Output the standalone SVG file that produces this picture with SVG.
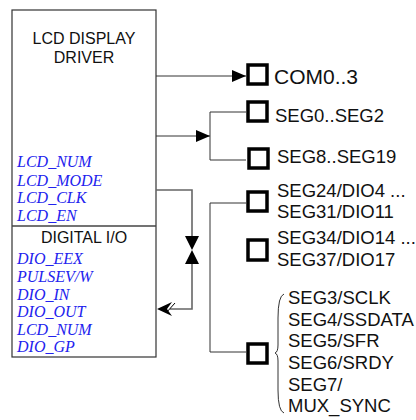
<svg xmlns="http://www.w3.org/2000/svg" width="416" height="420" viewBox="0 0 416 420">
<style>
.t{font-family:"Liberation Sans",Arial,sans-serif;fill:#111}
.b{font-family:"Liberation Serif","Times New Roman",serif;font-style:italic;font-size:16px;fill:#2222ee}
.pin{fill:#fff;stroke:#000;stroke-width:3.5}
.ln{fill:none;stroke:#333;stroke-width:1}
.gl{fill:none;stroke:#666;stroke-width:1.6}
</style>
<defs>
<marker id="ah" viewBox="0 0 14 12" refX="14" refY="6" markerWidth="14" markerHeight="12" markerUnits="userSpaceOnUse" orient="auto">
<path d="M0,0 L14,6 L0,12 Z" fill="#000"/>
</marker>
</defs>
<rect width="416" height="420" fill="#fff"/>
<g id="driver">
<rect x="12" y="10" width="144" height="347" fill="#fff" stroke="#333" stroke-width="1.2"/>
<line x1="12" y1="226" x2="156" y2="226" stroke="#444" stroke-width="1.6"/>
<text class="t" x="84" y="44" font-size="16" text-anchor="middle">LCD DISPLAY</text>
<text class="t" x="84" y="63" font-size="16" text-anchor="middle">DRIVER</text>
<text class="b" x="17" y="167">LCD_NUM</text>
<text class="b" x="17" y="186">LCD_MODE</text>
<text class="b" x="17" y="203">LCD_CLK</text>
<text class="b" x="17" y="221">LCD_EN</text>
<text class="t" x="84" y="243" font-size="16" text-anchor="middle">DIGITAL I/O</text>
<text class="b" x="17" y="264">DIO_EEX</text>
<text class="b" x="17" y="282">PULSEV/W</text>
<text class="b" x="17" y="300">DIO_IN</text>
<text class="b" x="17" y="317">DIO_OUT</text>
<text class="b" x="17" y="335">LCD_NUM</text>
<text class="b" x="17" y="352">DIO_GP</text>
</g>
<g id="connectors">
<line class="ln" x1="156" y1="76" x2="246" y2="76" marker-end="url(#ah)"/>
<line class="ln" x1="156" y1="136" x2="210" y2="136" marker-end="url(#ah)"/>
<polyline class="ln" points="246,112 210,112 210,160 246,160"/>
<polyline class="ln" points="246,203 210,203 210,352 246,352"/>
<polyline class="gl" points="156,190 192,190 192,237"/>
<polyline class="gl" points="192,263 192,309 170,309"/>
<path d="M185,236 L199,236 L192,250 Z M185,264 L199,264 L192,250 Z" fill="#000"/>
<path d="M157,309 L172,302 L167,309 L172,316 Z" fill="#000"/>
<line x1="166" y1="313" x2="175" y2="303" stroke="#000" stroke-width="1"/>
<path class="ln" d="M284,294 Q278,296 278,318 L278,345 Q278,352 275,353 Q278,354 278,361 L278,390 Q278,411 284,413"/>
</g>
<g id="com"><rect class="pin" x="248" y="65" width="19" height="19"/>
<text class="t" x="274" y="84" font-size="21">COM0..3</text></g>
<g id="seg0"><rect class="pin" x="248" y="102" width="19" height="19"/>
<text class="t" x="275" y="122" font-size="18.5">SEG0..SEG2</text></g>
<g id="seg8"><rect class="pin" x="249" y="149" width="19" height="19"/>
<text class="t" x="277" y="163" font-size="18.5">SEG8..SEG19</text></g>
<g id="seg24"><rect class="pin" x="248" y="192" width="19" height="19"/>
<text class="t" x="277" y="197" font-size="18.5">SEG24/DIO4 ...</text>
<text class="t" x="277" y="218" font-size="18.5">SEG31/DIO11</text></g>
<g id="seg34"><rect class="pin" x="248" y="240" width="19" height="20"/>
<text class="t" x="277" y="244" font-size="18.5">SEG34/DIO14 ...</text>
<text class="t" x="277" y="266" font-size="18.5">SEG37/DIO17</text></g>
<g id="serial"><rect class="pin" x="248" y="344" width="19" height="19"/>
<text class="t" x="288" y="304" font-size="18.5">SEG3/SCLK</text>
<text class="t" x="288" y="326" font-size="18.5">SEG4/SSDATA</text>
<text class="t" x="288" y="347" font-size="18.5">SEG5/SFR</text>
<text class="t" x="288" y="369" font-size="18.5">SEG6/SRDY</text>
<text class="t" x="288" y="391" font-size="18.5">SEG7/</text>
<text class="t" x="288" y="412" font-size="18.5">MUX_SYNC</text></g>
</svg>
